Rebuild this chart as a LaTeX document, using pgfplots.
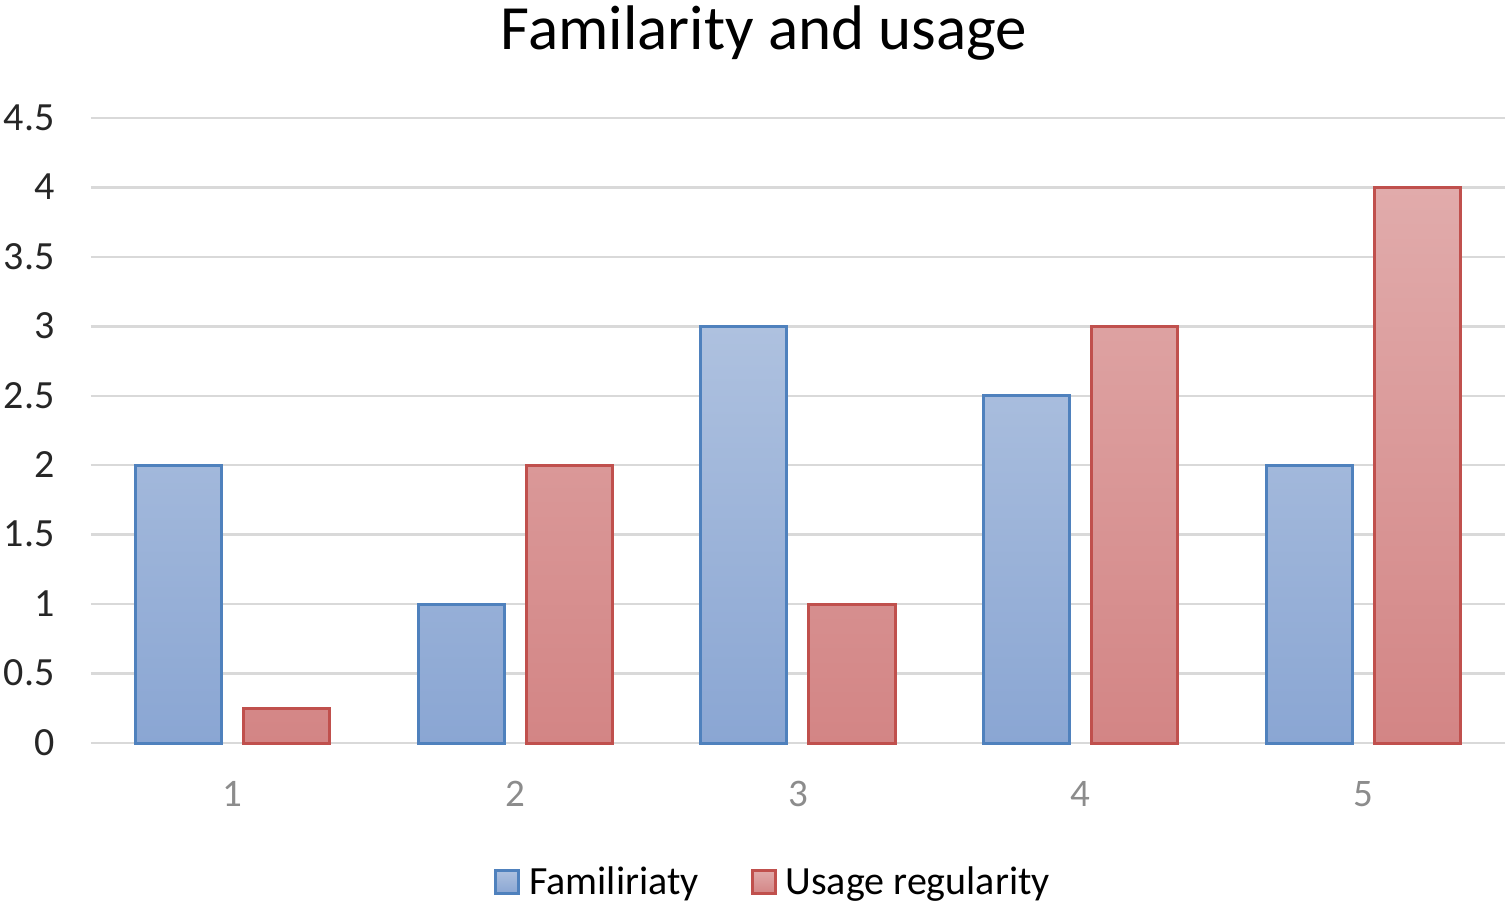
\documentclass[border=0pt]{standalone}
\usepackage{pgfplots}
\pgfplotsset{compat=1.18}
\usepackage{fontspec}
\setmainfont{Carlito}
\definecolor{bluebord}{HTML}{4F81BD}
\definecolor{bluetop}{HTML}{AEC1DF}
\definecolor{bluebot}{HTML}{8AA6D3}
\definecolor{redbord}{HTML}{C0504D}
\definecolor{redtop}{HTML}{E1ABAB}
\definecolor{redbot}{HTML}{D38585}
\definecolor{gridc}{HTML}{D9D9D9}
\definecolor{ytxt}{HTML}{262626}
\definecolor{xtxt}{HTML}{8C8C8C}
\begin{document}
\begin{tikzpicture}
\useasboundingbox (0,0) rectangle (755.5pt,453pt);
\begin{axis}[
  at={(45.5pt,81.5pt)}, anchor=south west,
  scale only axis, width=707pt, height=312.5pt,
  xmin=0.5, xmax=5.5, ymin=0, ymax=4.5,
  ybar, bar width=43pt,
  xtick={1,2,3,4,5}, ytick={0,0.5,...,4.5},
  yticklabels={0,0.5,1,1.5,2,2.5,3,3.5,4,4.5},
  axis line style={draw=none},
  axis x line*=bottom,
  major tick length=0pt,
  ymajorgrids, grid style={gridc, line width=1.25pt},
  /pgf/number format/assume math mode=true,
  yticklabel style={font=\fontsize{20}{24}\selectfont, text=ytxt, anchor=mid east, inner sep=0pt, xshift=-18pt, yshift=-3.75pt},
  xticklabel style={font=\fontsize{19.5}{23}\selectfont, text=xtxt, anchor=base, inner sep=0pt, yshift=-31.5pt},
  title={Familarity and usage},
  title style={font=\fontsize{31.5}{38}\selectfont, text=black, at={(0.476,1)}, anchor=base, yshift=28pt, inner sep=0pt},
  legend columns=2,
  legend style={draw=none, at={(0.483,-0.222)}, anchor=center, font=\fontsize{20}{24}\selectfont, /tikz/every even column/.append style={column sep=24pt}},
  legend image code/.code={\draw[#1, line width=1.5pt] (0pt,-5.75pt) rectangle (11.5pt,5.75pt); \path (14pt,0pt);},
  clip=false,
]
\addplot[draw=bluebord, line width=1.5pt, top color=bluetop, bottom color=bluebot, bar shift=-27pt] coordinates {(1,2) (2,1) (3,3) (4,2.5) (5,2)};
\addplot[draw=redbord, line width=1.5pt, top color=redtop, bottom color=redbot, bar shift=27pt] coordinates {(1,0.25) (2,2) (3,1) (4,3) (5,4)};
\legend{Familiriaty, Usage regularity}
\end{axis}
\end{tikzpicture}
\end{document}
